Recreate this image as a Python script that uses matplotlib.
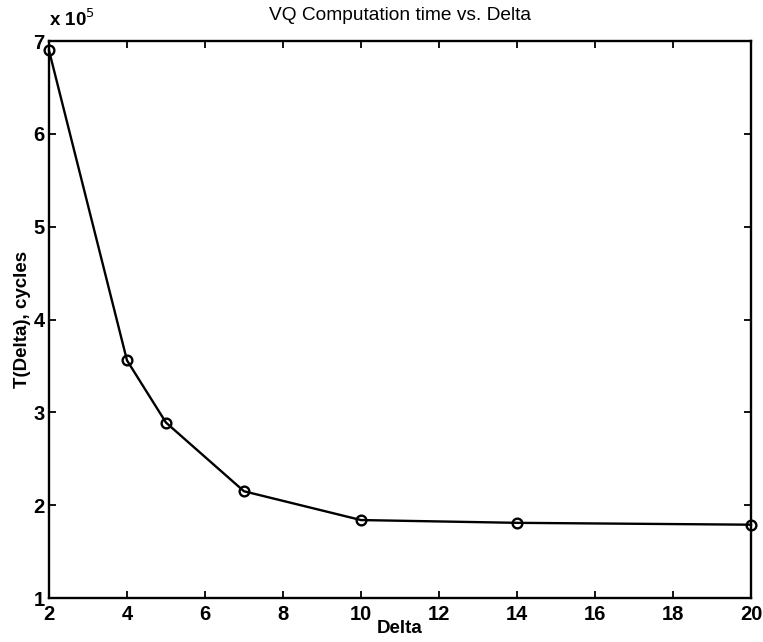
import matplotlib
matplotlib.use("Agg")
import matplotlib.pyplot as plt
from matplotlib.ticker import FuncFormatter

plt.rcParams['font.family'] = ['Liberation Sans', 'DejaVu Sans']

# VQ computation time for each Delta value
delta = [2, 4, 5, 7, 10, 14, 20]
cycles = [6.90e5, 3.56e5, 2.89e5, 2.15e5, 1.84e5, 1.81e5, 1.79e5]

x_ticks = [2, 4, 6, 8, 10, 12, 14, 16, 18, 20]
y_ticks = [1e5, 2e5, 3e5, 4e5, 5e5, 6e5, 7e5]

fig = plt.figure(figsize=(7.63, 6.42), dpi=100)
ax = fig.add_axes([0.0642, 0.0685, 0.9201, 0.8675])

ax.plot(delta, cycles, color='black', linewidth=1.7,
        marker='o', markersize=7, markerfacecolor='none',
        markeredgecolor='black', markeredgewidth=1.7, clip_on=False)

ax.set_xlim(2, 20)
ax.set_ylim(1e5, 7e5)
ax.set_xticks(x_ticks)
ax.set_yticks(y_ticks)
ax.yaxis.set_major_formatter(FuncFormatter(lambda v, p: f"{v / 1e5:g}"))

ax.tick_params(direction='in', top=True, right=True, length=5, width=1.3,
               labelsize=14.5)
ax.tick_params(axis='x', pad=5)
ax.tick_params(axis='y', pad=3)
for lab in ax.get_xticklabels() + ax.get_yticklabels():
    lab.set_fontweight('bold')
for s in ax.spines.values():
    s.set_linewidth(1.7)

ax.text(0.0, 1.02, r"x 10$^{5}$", transform=ax.transAxes, fontsize=13.5,
        fontweight='bold', ha='left', va='bottom')

ax.set_title("VQ Computation time vs. Delta", fontsize=13.8, pad=15)
ax.set_xlabel("Delta", fontsize=13.5, fontweight='bold', labelpad=-3)
ax.set_ylabel("T(Delta), cycles", fontsize=13.5, fontweight='bold', labelpad=2)

fig.savefig("out.png", dpi=100)
